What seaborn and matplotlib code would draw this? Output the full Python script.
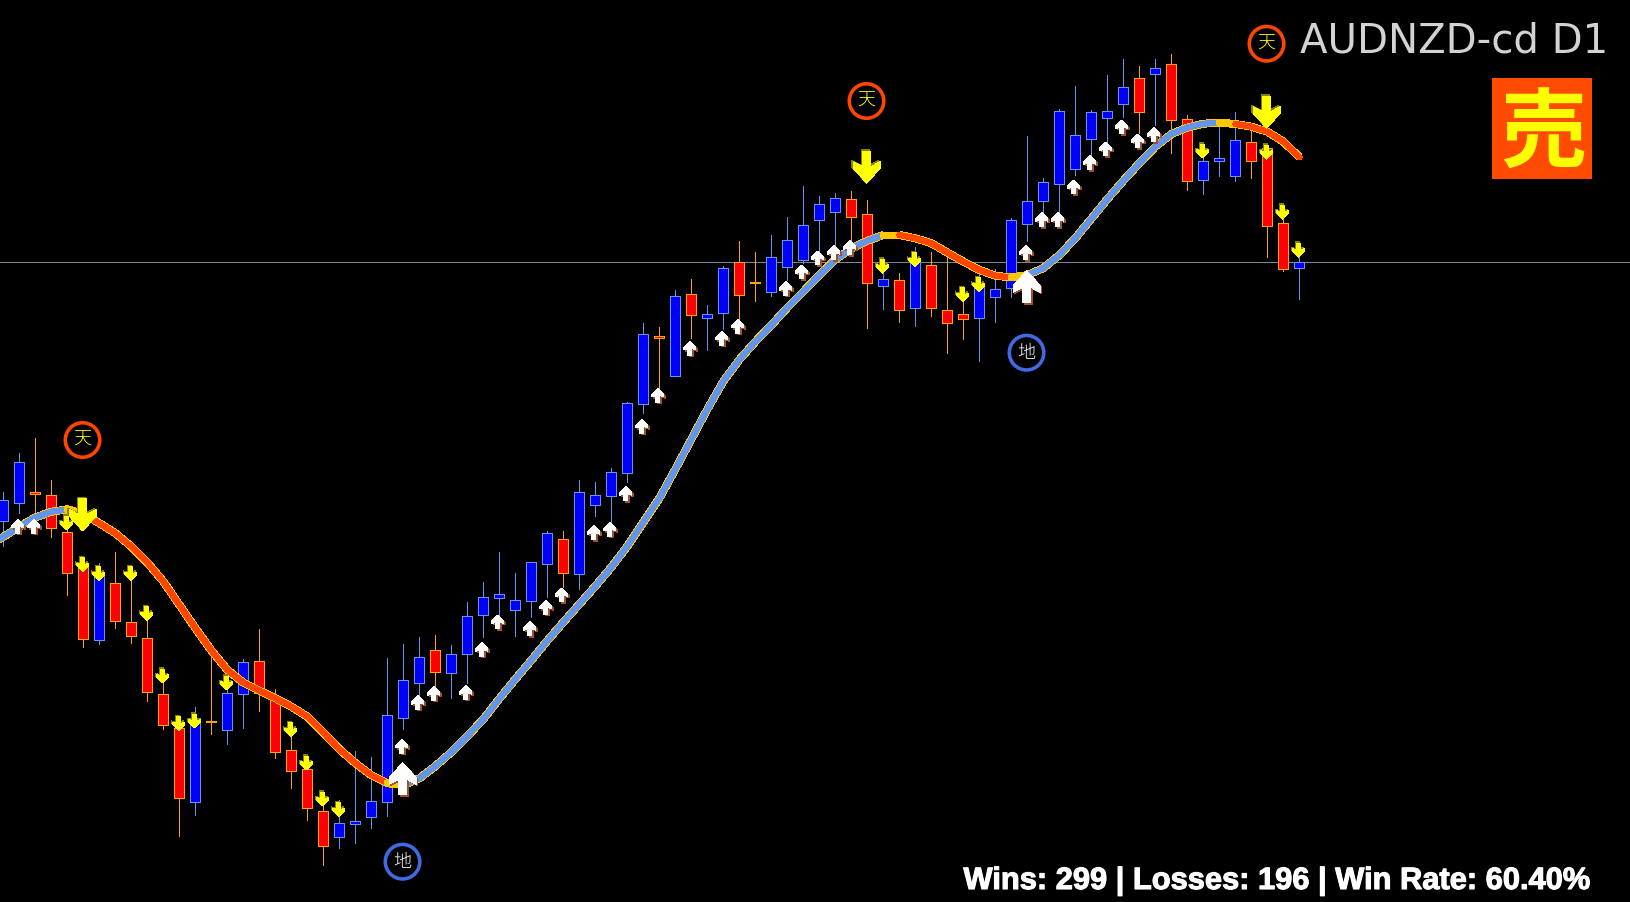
import numpy as np
import pandas as pd
import seaborn as sns
import matplotlib
matplotlib.use("Agg")
import matplotlib.pyplot as plt
from matplotlib.path import Path
from matplotlib.patches import Rectangle
import matplotlib.patheffects as pe

kind = ("bbrrrrbrrrrrbrbbrrrrrbbbbbb"      # bars 0-26
        "rbbbbbbbrbbbbbrbrbbrrb"           # bars 27-48
        "bbbbrrbrbrrrbbbbbbbbb"            # bars 49-69
        "brbrrbbbrrrb")                    # bars 70-81

wick_hi = [492, 453, 438.3, 480.3, 515, 563, 563.3, 552, 576.7, 620, 681.7, 728.3, 707.3, 655, 687,
           659, 629.3, 689, 735, 766.7, 803.3, 800, 751, 757, 658, 644, 637,
           635, 645, 602.3, 582.3, 552, 573.3, 562.3, 531.3, 531.3, 480.3, 482, 468, 402.3, 323, 327,
           290, 279.3, 305.3, 266, 241.3, 252.3, 235,
           217, 186, 196, 193.3, 191, 200, 263, 273.3, 247.3, 252, 255, 293, 273.3, 269.3, 218.3, 136,
           178, 109.3, 86, 110, 75, 59.3, 66, 59.3, 54, 115.3, 150, 125, 112, 130, 146.7, 218.3, 242.3]
wick_lo = [545.6, 512.7, 523, 536.7, 594.7, 646.7, 643.7, 627.7, 642.7, 700.7, 728.7, 835.7, 814.7, 733.7, 743.7,
           727.7, 710.7, 757.7, 787.7, 819.7, 864.7, 847.7, 842.7, 827.7, 815.7, 728.7, 696,
           687, 698, 683, 636.7, 615, 635.7, 616.7, 596.7, 586.7, 588.7, 516, 522.7, 482, 412.7, 390,
           376.3, 337.7, 350, 329, 320, 300.7, 295.7,
           280, 263.3, 251.7, 246.7, 240, 327.7, 308.7, 321.7, 325.7, 315.7, 352.7, 338.7, 360.7, 321.7, 296.7, 241,
           213.3, 213.3, 175, 156, 141.7, 116.7, 133.3, 125, 153.3, 190, 193.7, 175.7, 181, 177.7, 256.7, 270.7, 298.7]
body_top = [500.3, 462.3, 492.3, 495.3, 532.3, 566.7, 574, 583.3, 622.3, 638.3, 694.3, 728.3, 717.7, 721.3, 693.3,
            662.3, 661.3, 700, 750.3, 769.3, 811.3, 823.3, 820.7, 801.3, 715.3, 680.3, 657.3,
            650.3, 654.3, 616.3, 597.3, 594.3, 600.3, 562.3, 533.3, 539.3, 492.3, 495.3, 472.3, 403.3, 334.3, 336.3,
            296.3, 294.3, 314.3, 268.3, 262.3, 282.3, 257.3,
            240.3, 225.3, 204.3, 198.3, 199.3, 214.3, 279.3, 280.3, 262.3, 265.3, 310.3, 314.3, 285.3, 289.3, 220.3, 201.3,
            182.3, 111.3, 135.3, 112.3, 111.3, 87.3, 78.3, 68.3, 64.3, 119.3, 161.3, 158.3, 140.3, 142.3, 148.3, 223.3, 262.3]
body_bot = [521.3, 503.3, 494.3, 528.3, 573.3, 639.3, 640.3, 621.3, 636.3, 692.3, 725.3, 798.3, 802.3, 722.3, 730.3,
            694.3, 693.3, 752.3, 771.3, 808.3, 846.3, 837.3, 824.3, 817.3, 802.3, 718.3, 683.3,
            671.7, 673.3, 654.3, 614.7, 598.3, 610.3, 601.3, 564.3, 573.3, 574.3, 505.3, 496.3, 473.3, 404.3, 338.3,
            376.3, 315.3, 318.3, 313.3, 295.3, 283.3, 292.3,
            266.7, 259.7, 220.3, 211.7, 217.3, 283.3, 286.3, 310.3, 308.3, 308.3, 323.3, 319.3, 318.3, 297.3, 288.3, 224.3,
            201.3, 184.3, 169.3, 139.3, 118.5, 104.3, 111.7, 73.7, 120.3, 180.7, 179.7, 160.7, 175.7, 160.7, 225.7, 269.3, 268.3]

# moving average, one value per bar, starting one bar before the window
ma_level = [547, 536.7, 526.7, 517.3, 511.7, 509.3, 514,                       # bars -1..5
            523.3, 533.3, 546.7, 562.7, 581.7, 605, 628.3, 650.7, 670, 682.7,  # bars 6..15
            690.7, 698.3, 706.7, 716.7, 732.7, 749.3, 763.3, 775.3, 783.3,     # bars 16..24
            785, 778.3, 766, 752, 736, 719, 698.5, 679, 660, 640.5,            # bars 25..34
            622, 604, 586, 567, 546, 522, 498, 469, 439, 409,                  # bars 35..44
            381, 359.5, 341.5, 325, 307.5, 291.5, 275, 259.5, 248.5, 240.7,    # bars 45..54
            235, 235, 238.3, 243.3, 252.7, 261.7, 270, 275.7, 277.5,           # bars 55..63
            275, 268, 255, 238, 218.5, 199, 180.5, 163, 146.5, 134,            # bars 64..73
            127.5, 123.7, 122.7, 124, 126.7, 131.7, 141.7, 157.3]              # bars 74..81
ma_regime_start = [-1, 4, 5, 24, 25, 55, 56, 63, 64, 76, 77]
ma_regime = ["up", "flat", "down", "flat", "up", "flat", "down", "flat", "up", "flat", "down"]

up_bar = [1, 2, 25, 26, 27, 29, 30, 31, 33, 34, 35, 37, 38, 39, 40, 41, 43, 45, 46, 49, 50, 51, 52, 53,
          64, 65, 66, 67, 68, 69, 70, 71, 72]
up_tip = [519.3, 519.3, 739.3, 695.5, 686.5, 685.5, 642.5, 615, 621.7, 600.3, 588, 525.7, 522.3, 486.7, 419.3, 388.3,
          341.3, 331.3, 319.3, 281.5, 265, 251, 245.7, 240.7,
          245.7, 212.7, 212.7, 180, 155.7, 142, 120, 134, 127.7]
down_bar = [4, 5, 6, 8, 9, 10, 11, 12, 14, 18, 19, 20, 21, 55, 57, 60, 61, 75, 79, 80, 81]
down_tip = [530, 571.7, 580.7, 580.7, 620.7, 683, 730.7, 728, 690, 736.7, 770, 806, 816.7,
            273.3, 266.7, 301.7, 291.7, 158, 159.3, 219.3, 257.3]
big_up_bar = [25, 64]
big_up_tip = [762.7, 270.7]
big_down_bar = [5, 54, 79]
big_down_tip = [531, 183.3, 128.3]

top_bar = [5, 54, 79]
top_level = [440, 101, 43.7]
top_char = "天"
bottom_bar = [25, 64]
bottom_level = [861.7, 352.7]
bottom_char = "地"

ref_level = 262.3
symbol_text = "AUDNZD-cd D1"
signal_text = "売"
stats_text = "Wins: 299 | Losses: 196 | Win Rate: 60.40%"

# ---------- styling ----------
W, H = 1631, 902
PX = 72 / 100  # one pixel in points at dpi 100
CJK = ["Noto Sans CJK JP", "DejaVu Sans"]

C_BLUE, C_BLUE_EDGE = "#0000FF", "#6495ED"
C_RED, C_RED_EDGE = "#FF0000", "#FFA500"
C_ORANGE, C_GOLD = "#FF4500", "#FFC800"

sns.set_theme(style="dark", rc={"axes.facecolor": "black", "figure.facecolor": "black",
                                "savefig.facecolor": "black", "axes.grid": False})
plt.rcParams["font.family"] = CJK

fig = plt.figure(figsize=(W / 100, H / 100), dpi=100)
ax = fig.add_axes([0, 0, 1, 1])
ax.set_xlim(-3.5 / 16, (W - 3.5) / 16)
ax.set_ylim(H, 0)
ax.set_axis_off()

ax.axhline(ref_level, color="#778899", lw=PX, zorder=1, antialiased=False)

# candles
bars = np.arange(len(wick_hi))
df = pd.DataFrame(dict(bar=bars, kind=list(kind), hi=wick_hi, lo=wick_lo, top=body_top, bot=body_bot))
for k, face, edge in [("b", C_BLUE, C_BLUE_EDGE), ("r", C_RED, C_RED_EDGE)]:
    d = df[df.kind == k]
    ax.vlines(d.bar, d.hi, d.lo, color=edge, lw=PX, zorder=2, antialiased=False)
    ax.bar(d.bar, d.bot - d.top, bottom=d.top, width=10 / 16, color=face, edgecolor=edge,
           linewidth=PX, zorder=3, antialiased=False)

# moving average, regime by regime
ma_x = np.arange(-1, len(ma_level) - 1)
ma_y = np.array(ma_level)
stops = ma_regime_start + [int(ma_x[-1])]
colours = {"up": C_BLUE_EDGE, "down": C_ORANGE, "flat": C_GOLD}
for s, e, reg in zip(stops[:-1], stops[1:], ma_regime):
    m = (ma_x >= s) & (ma_x <= e)
    if reg != "flat":
        sns.lineplot(x=ma_x[m], y=ma_y[m], color=C_GOLD, lw=7 * PX, ax=ax, sort=False, estimator=None,
                     legend=False, zorder=4, solid_capstyle="butt", antialiased=False)
for s, e, reg in zip(stops[:-1], stops[1:], ma_regime):
    m = (ma_x >= s) & (ma_x <= e)
    wid = 7 if reg == "flat" else 5.2
    sns.lineplot(x=ma_x[m], y=ma_y[m], color=colours[reg], lw=wid * PX, ax=ax, sort=False, estimator=None,
                 legend=False, zorder=5, solid_capstyle="round", antialiased=False)

# arrows: marker origin is the arrow tip
def arrow(h, w, sw, notch, o1, o2):
    """Upward arrow with tip at origin, height h, half width w, half shaft sw."""
    v = [(0, 0), (w, -o1), (w, -o2), (sw, -notch), (sw, -h), (-sw, -h), (-sw, -notch), (-w, -o2), (-w, -o1), (0, 0)]
    return np.array(v, float)

small_up = arrow(14, 6, 2, 7.2, 6, 8.6)
big_up = arrow(32.3, 13.5, 4, 16.6, 15, 21.6)
small_dn = small_up * [1, -1]
big_dn = big_up * [1, -1]

def size(h):
    return (2 * h * PX) ** 2

def put(xs, ys, v, h, col, shadow, offset):
    coll = ax.scatter(xs, ys, marker=Path(v, closed=True), s=size(h), color=col, linewidths=0, zorder=6)
    coll.set_path_effects([pe.SimplePatchShadow(offset=offset, shadow_rgbFace=shadow, alpha=1.0), pe.Normal()])
    coll.set_antialiased(False)

put(np.array(up_bar) - 0.1, up_tip, small_up, 14, "white", "#A0522D", (1, -1))
put(np.array(big_up_bar) - 0.05, big_up_tip, big_up, 32.3, "white", "#A0522D", (1, -1))
put(np.array(down_bar) - 0.05, down_tip, small_dn, 14, "yellow", "#8B8000", (-1, 1))
put(np.array(big_down_bar) - 0.05, big_down_tip, big_dn, 32.3, "yellow", "#8B8000", (-1, 1))

# top / bottom badges
nudge = -0.06
ax.scatter(np.array(top_bar) + nudge, top_level, s=(34.5 * PX) ** 2, facecolors="none", edgecolors=C_ORANGE,
           linewidths=3.6 * PX, zorder=7)
ax.scatter(np.array(bottom_bar) + nudge, bottom_level, s=(34.5 * PX) ** 2, facecolors="none", edgecolors="#4169E1",
           linewidths=3.6 * PX, zorder=7)
for b, l in zip(top_bar, top_level):
    ax.text(b + nudge, l, top_char, color="yellow", fontsize=13, ha="center", va="center", family=CJK, weight="light", zorder=8)
for b, l in zip(bottom_bar, bottom_level):
    ax.text(b + nudge, l, bottom_char, color="white", fontsize=13, ha="center", va="center", family=CJK, weight="light", zorder=8)

# window labels
def fx(x):
    return x / W

def fy(y):
    return 1 - y / H

ax.add_patch(Rectangle((fx(1492), fy(179)), 100.5 / W, 100.7 / H, transform=ax.transAxes,
                       facecolor="#FF4B00", edgecolor="none", zorder=8))
ax.text(fx(1543), fy(135), signal_text, transform=ax.transAxes, color="yellow", fontsize=62, weight="bold",
        ha="center", va="center", family=CJK, zorder=9)
ax.text(fx(1608), fy(52.7), symbol_text, transform=ax.transAxes, color="#D3D3D3", fontsize=29,
        ha="right", va="baseline", family=["DejaVu Sans"], zorder=9)
ax.text(fx(1592), fy(889), stats_text, transform=ax.transAxes, color="white", fontsize=22.2, weight="bold",
        ha="right", va="baseline", family=["Liberation Sans"], zorder=9,
        path_effects=[pe.withStroke(linewidth=0.8, foreground="white")])

fig.savefig("out.png", dpi=100, facecolor="black")
